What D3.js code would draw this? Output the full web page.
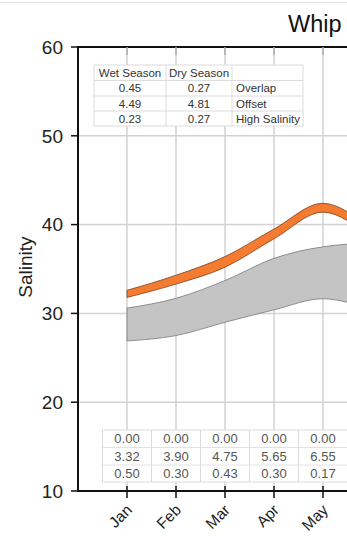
<!DOCTYPE html>
<html>
<head>
<meta charset="utf-8">
<script src="https://cdn.jsdelivr.net/npm/d3@7"></script>
<style>
  html, body { margin: 0; padding: 0; background: #fff; overflow: hidden; }
  svg { display: block; font-family: "Liberation Sans", Arial, sans-serif; }
</style>
</head>
<body>
<svg id="chart"></svg>
<script>
// months, Jan = 1 (Jun/Jul lie past the right edge but shape the curves)
const months = ['Jan', 'Feb', 'Mar', 'Apr', 'May', 'Jun', 'Jul'];
// orange band (dry season)
const dryLow  = [31.8, 33.3, 35.2, 38.4, 41.4, 38.8, 36.0];
const dryHigh = [32.6, 34.3, 36.4, 39.5, 42.4, 39.8, 37.0];
// grey band (wet season)
const wetLow  = [26.9, 27.5, 29.0, 30.4, 31.65, 30.6, 29.8];
const wetHigh = [30.6, 31.7, 33.7, 36.2, 37.5, 37.9, 37.5];

const yTicks = [10, 20, 30, 40, 50, 60];

// summary table
const statNames = ['Overlap', 'Offset', 'High Salinity'];
const wetStats = ['0.45', '4.49', '0.23'];
const dryStats = ['0.27', '4.81', '0.27'];

// monthly table
const monthOverlap = ['0.00', '0.00', '0.00', '0.00', '0.00'];
const monthOffset  = ['3.32', '3.90', '4.75', '5.65', '6.55'];
const monthHigh    = ['0.50', '0.30', '0.43', '0.30', '0.17'];

const width = 347, height = 538;
const svg = d3.select('#chart').attr('width', width).attr('height', height);

const plotLeft = 78, plotTop = 47, plotBottom = 491;
const step = 49;

const x = d3.scaleLinear().domain([0, 13]).range([plotLeft, plotLeft + 13 * step]);
const y = d3.scaleLinear().domain([10, 60]).range([plotBottom, plotTop]);

// faint frame line at top
svg.append('line').attr('x1', 0).attr('x2', width).attr('y1', 2.5).attr('y2', 2.5)
  .attr('stroke', '#e0e0e0').attr('stroke-width', 1);

// grid
const grid = svg.append('g');
grid.selectAll('line.v').data(months).enter().append('line').attr('class', 'v')
  .attr('x1', (d, i) => x(i + 1)).attr('x2', (d, i) => x(i + 1))
  .attr('y1', plotTop).attr('y2', plotBottom)
  .attr('stroke', '#d2d2d2').attr('stroke-width', 1.5);
grid.selectAll('line.h').data(yTicks.slice(1, -1)).enter().append('line').attr('class', 'h')
  .attr('x1', plotLeft).attr('x2', width)
  .attr('y1', d => y(d)).attr('y2', d => y(d))
  .attr('stroke', '#d2d2d2').attr('stroke-width', 1.5);

// bands
const idx = d3.range(months.length);
const band = (lo, hi) => d3.area()
  .x(i => x(i + 1))
  .y0(i => y(lo[i]))
  .y1(i => y(hi[i]))
  .curve(d3.curveMonotoneX);

svg.append('path').datum(idx).attr('d', band(wetLow, wetHigh))
  .attr('fill', '#c4c4c4').attr('stroke', '#7a7a7a').attr('stroke-width', 0.8);
svg.append('path').datum(idx).attr('d', band(dryLow, dryHigh))
  .attr('fill', '#f47b2f').attr('stroke', '#7a4220').attr('stroke-width', 0.8);

// summary table (top left)
const t1 = svg.append('g');
const cols1 = [94, 166, 232, 303];
const rows1 = [65, 80.5, 96, 111, 126];
t1.append('rect').attr('x', cols1[0]).attr('y', rows1[0])
  .attr('width', cols1[3] - cols1[0]).attr('height', rows1[4] - rows1[0])
  .attr('fill', '#fff').attr('stroke', '#dcdcdc');
rows1.slice(1, -1).forEach(r => t1.append('line')
  .attr('x1', cols1[0]).attr('x2', cols1[3]).attr('y1', r).attr('y2', r)
  .attr('stroke', '#dcdcdc'));
cols1.slice(1, -1).forEach(c => t1.append('line')
  .attr('x1', c).attr('x2', c).attr('y1', rows1[0]).attr('y2', rows1[4])
  .attr('stroke', '#dcdcdc'));
const t1text = (txt, xx, r, anchor) => t1.append('text')
  .attr('x', xx).attr('y', (rows1[r] + rows1[r + 1]) / 2)
  .attr('dy', '0.36em').attr('text-anchor', anchor)
  .attr('font-size', 11.5).attr('fill', '#333').text(txt);
t1text('Wet Season', (cols1[0] + cols1[1]) / 2, 0, 'middle');
t1text('Dry Season', (cols1[1] + cols1[2]) / 2, 0, 'middle');
statNames.forEach((n, i) => {
  t1text(wetStats[i], (cols1[0] + cols1[1]) / 2, i + 1, 'middle');
  t1text(dryStats[i], (cols1[1] + cols1[2]) / 2, i + 1, 'middle');
  t1text(n, cols1[2] + 4, i + 1, 'start');
});

// monthly table (bottom)
const t2 = svg.append('g');
const rows2 = [430, 447.5, 465, 482];
const t2rows = [monthOverlap, monthOffset, monthHigh];
const x0 = x(0.5), x1 = x(monthOffset.length + 0.5);
t2.append('rect').attr('x', x0).attr('y', rows2[0])
  .attr('width', x1 - x0).attr('height', rows2[3] - rows2[0])
  .attr('fill', '#fff').attr('stroke', '#dcdcdc');
rows2.slice(1, -1).forEach(r => t2.append('line')
  .attr('x1', x0).attr('x2', x1).attr('y1', r).attr('y2', r).attr('stroke', '#e2e2e2'));
d3.range(1, monthOffset.length).forEach(m => t2.append('line')
  .attr('x1', x(m + 0.5)).attr('x2', x(m + 0.5)).attr('y1', rows2[0]).attr('y2', rows2[3])
  .attr('stroke', '#dcdcdc'));
t2rows.forEach((row, r) => {
  t2.selectAll(null).data(row).enter().append('text')
    .attr('x', (d, i) => x(i + 1)).attr('y', (rows2[r] + rows2[r + 1]) / 2)
    .attr('dy', '0.36em').attr('text-anchor', 'middle')
    .attr('font-size', 13).attr('fill', '#555').text(d => d);
});

// axes frame
svg.append('line').attr('x1', plotLeft).attr('x2', width).attr('y1', plotTop).attr('y2', plotTop)
  .attr('stroke', '#111').attr('stroke-width', 2);
svg.append('line').attr('x1', plotLeft).attr('x2', width).attr('y1', plotBottom).attr('y2', plotBottom)
  .attr('stroke', '#111').attr('stroke-width', 2);
svg.append('line').attr('x1', plotLeft).attr('x2', plotLeft).attr('y1', plotTop - 1).attr('y2', plotBottom + 1)
  .attr('stroke', '#111').attr('stroke-width', 2);

// y ticks + labels
const yAxis = svg.append('g');
yAxis.selectAll('line').data(yTicks).enter().append('line')
  .attr('x1', plotLeft - 7).attr('x2', plotLeft).attr('y1', d => y(d)).attr('y2', d => y(d))
  .attr('stroke', '#111').attr('stroke-width', 1.5);
yAxis.selectAll('text').data(yTicks).enter().append('text')
  .attr('x', plotLeft - 15).attr('y', d => y(d)).attr('dy', '0.36em')
  .attr('text-anchor', 'end').attr('font-size', 19).attr('fill', '#222')
  .text(d => d);

// x ticks + labels (only the months whose tick is on the page)
const shown = months.filter((d, i) => x(i + 1) < width);
const xAxis = svg.append('g');
xAxis.selectAll('line.bt').data(months).enter().append('line').attr('class', 'bt')
  .attr('x1', (d, i) => x(i + 1)).attr('x2', (d, i) => x(i + 1))
  .attr('y1', plotBottom - 5).attr('y2', plotBottom + 7)
  .attr('stroke', '#111').attr('stroke-width', 1.5);
xAxis.selectAll('line.tt').data(months).enter().append('line').attr('class', 'tt')
  .attr('x1', (d, i) => x(i + 1)).attr('x2', (d, i) => x(i + 1))
  .attr('y1', plotTop).attr('y2', plotTop + 8)
  .attr('stroke', '#aaa').attr('stroke-width', 1.5);
xAxis.selectAll('text').data(shown).enter().append('text')
  .attr('transform', (d, i) => `translate(${x(i + 1) + 6},${plotBottom + 20}) rotate(-45)`)
  .attr('text-anchor', 'end').attr('font-size', 15.5).attr('fill', '#222')
  .text(d => d);

// axis title
svg.append('text')
  .attr('transform', `translate(32,${(plotTop + plotBottom) / 2 - 2}) rotate(-90)`)
  .attr('text-anchor', 'middle').attr('font-size', 19).attr('fill', '#222')
  .text('Salinity');

// chart title, only the part that is on the page
svg.append('text').attr('x', 288).attr('y', 32)
  .attr('font-size', 23.5).attr('fill', '#111')
  .text('Whip');
</script>
</body>
</html>
